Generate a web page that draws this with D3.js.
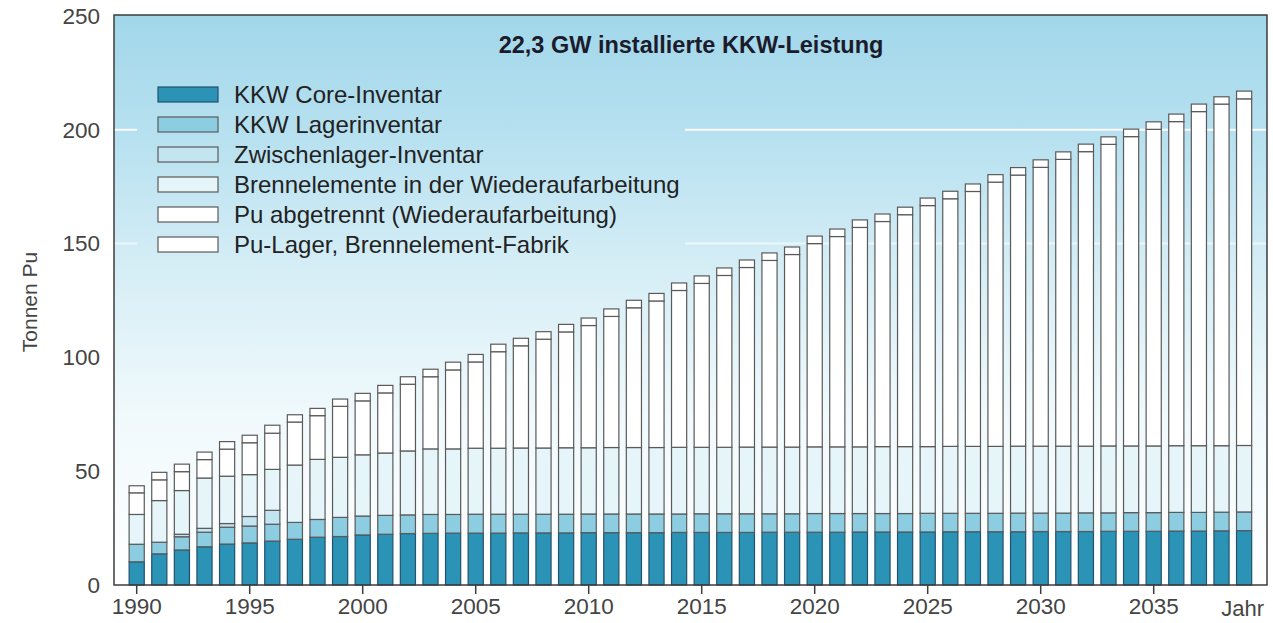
<!DOCTYPE html>
<html>
<head>
<meta charset="utf-8">
<script src="https://cdn.jsdelivr.net/npm/d3@7"></script>
<style>
  html, body { margin: 0; padding: 0; background: #ffffff; }
  svg { display: block; font-family: "Liberation Sans", Arial, Helvetica, sans-serif; }
</style>
</head>
<body>
<svg id="chart" width="1273" height="623"></svg>
<script>
// Plutonium inventory per year, in tonnes Pu, split by where it is held
const years = d3.range(1990, 2040);

const coreInventar = [
  10.2, 13.7, 15.4, 16.8, 18.0, 18.5, 19.3, 20.1, 21.0, 21.3,
  22.0, 22.3, 22.6, 22.7, 22.8, 22.8, 22.8, 22.9, 22.9, 22.9,
  23.0, 23.0, 23.0, 23.0, 23.1, 23.1, 23.1, 23.1, 23.2, 23.2,
  23.2, 23.2, 23.3, 23.3, 23.3, 23.3, 23.4, 23.4, 23.4, 23.4,
  23.5, 23.5, 23.5, 23.6, 23.6, 23.6, 23.7, 23.7, 23.8, 23.9
];
const lagerInventar = [
  7.7, 5.1, 5.8, 6.4, 7.4, 7.4, 7.4, 7.4, 7.8, 8.4,
  8.3, 8.3, 8.2, 8.3, 8.2, 8.3, 8.3, 8.2, 8.2, 8.2,
  8.2, 8.2, 8.2, 8.2, 8.1, 8.2, 8.2, 8.2, 8.1, 8.1,
  8.2, 8.2, 8.1, 8.1, 8.1, 8.2, 8.1, 8.1, 8.1, 8.2,
  8.1, 8.1, 8.2, 8.1, 8.2, 8.2, 8.2, 8.2, 8.2, 8.2
];
const zwischenlager = [
  0, 0, 1.1, 1.7, 1.6, 4.2, 6.1, 0, 0, 0,
  0, 0, 0, 0, 0, 0, 0, 0, 0, 0,
  0, 0, 0, 0, 0, 0, 0, 0, 0, 0,
  0, 0, 0, 0, 0, 0, 0, 0, 0, 0,
  0, 0, 0, 0, 0, 0, 0, 0, 0, 0
];
const wiederaufarbeitung = [
  13.1, 18.3, 19.2, 22.1, 20.8, 18.4, 18.0, 25.2, 26.4, 26.4,
  26.9, 27.4, 28.1, 28.8, 28.8, 29.0, 29.0, 29.1, 29.1, 29.2,
  29.1, 29.2, 29.2, 29.2, 29.3, 29.2, 29.2, 29.3, 29.3, 29.3,
  29.3, 29.3, 29.3, 29.4, 29.4, 29.3, 29.4, 29.4, 29.4, 29.4,
  29.4, 29.4, 29.3, 29.4, 29.3, 29.3, 29.3, 29.3, 29.2, 29.2
];
const puAbgetrennt = [
  9.5, 9.1, 8.3, 8.1, 11.9, 14.0, 15.9, 18.9, 19.2, 22.4,
  23.7, 26.4, 29.3, 31.7, 34.7, 37.9, 42.4, 44.9, 47.8, 50.9,
  53.7, 57.6, 61.4, 64.4, 68.9, 72.0, 75.5, 78.9, 82.0, 84.6,
  89.3, 92.4, 96.4, 98.9, 101.9, 105.9, 108.8, 112.0, 116.1, 119.1,
  122.5, 126.0, 129.4, 132.5, 135.9, 139.1, 142.4, 146.8, 150.1, 152.3
];
const puLager = [
  3.1, 3.3, 3.3, 3.3, 3.3, 3.3, 3.5, 3.2, 3.2, 3.2,
  3.3, 3.3, 3.3, 3.3, 3.4, 3.3, 3.3, 3.3, 3.3, 3.3,
  3.3, 3.3, 3.3, 3.3, 3.3, 3.3, 3.3, 3.3, 3.3, 3.3,
  3.3, 3.3, 3.3, 3.3, 3.3, 3.3, 3.3, 3.3, 3.3, 3.3,
  3.3, 3.3, 3.3, 3.3, 3.3, 3.3, 3.3, 3.3, 3.2, 3.4
];

const seriesKeys = ["core", "lager", "zwischen", "wa", "puab", "pulager"];
const seriesNames = [
  "KKW Core-Inventar",
  "KKW Lagerinventar",
  "Zwischenlager-Inventar",
  "Brennelemente in der Wiederaufarbeitung",
  "Pu abgetrennt (Wiederaufarbeitung)",
  "Pu-Lager, Brennelement-Fabrik"
];
const seriesColors = ["#2a93b6", "#8dcde2", "#c2e5f1", "#e6f5fa", "#ffffff", "#ffffff"];

const yTicks = [0, 50, 100, 150, 200, 250];
const gridValues = [150, 200];
const xTickYears = [1990, 1995, 2000, 2005, 2010, 2015, 2020, 2025, 2030, 2035];
const titleText = "22,3 GW installierte KKW-Leistung";
const yAxisTitle = "Tonnen Pu";
const xAxisTitle = "Jahr";

// rows for the stack layout
const table = years.map((yr, i) => ({
  year: yr,
  core: coreInventar[i],
  lager: lagerInventar[i],
  zwischen: zwischenlager[i],
  wa: wiederaufarbeitung[i],
  puab: puAbgetrennt[i],
  pulager: puLager[i]
}));

const plot = { left: 114, right: 1267, top: 15, bottom: 585 };
const svg = d3.select("#chart");

const x = d3.scaleBand()
  .domain(years)
  .range([125.4, 1255.4])
  .paddingInner(0.33)
  .paddingOuter(0.165);

const y = d3.scaleLinear().domain([0, 250]).range([plot.bottom, plot.top + 1]);

const color = d3.scaleOrdinal().domain(seriesKeys).range(seriesColors);

// sky gradient behind the plot
const defs = svg.append("defs");
const grad = defs.append("linearGradient")
  .attr("id", "sky")
  .attr("gradientUnits", "userSpaceOnUse")
  .attr("x1", 0).attr("y1", plot.top)
  .attr("x2", 0).attr("y2", plot.bottom);
[[0, "#a1d7ea"], [0.22, "#b8e1f0"], [0.45, "#d6eef6"], [0.7, "#f0f9fc"], [1, "#ffffff"]]
  .forEach(([o, c]) => grad.append("stop").attr("offset", o).attr("stop-color", c));

svg.append("rect")
  .attr("x", plot.left).attr("y", plot.top)
  .attr("width", plot.right - plot.left).attr("height", plot.bottom - plot.top)
  .attr("fill", "url(#sky)");

// white grid lines
svg.append("g").selectAll("line")
  .data(gridValues)
  .join("line")
  .attr("x1", plot.left).attr("x2", plot.right)
  .attr("y1", d => y(d)).attr("y2", d => y(d))
  .attr("stroke", "#ffffff")
  .attr("stroke-width", 2)
  .attr("opacity", d => d === 200 ? 0.95 : 0.6);

// legend panel sits on the sky and hides the grid behind it
const legendPanel = { x: 137, y: 16, w: 548, h: 248 };
svg.append("rect")
  .attr("x", legendPanel.x).attr("y", legendPanel.y)
  .attr("width", legendPanel.w).attr("height", legendPanel.h)
  .attr("fill", "url(#sky)");

// stacked bars
const stacked = d3.stack().keys(seriesKeys)(table);

svg.append("g").selectAll("g")
  .data(stacked)
  .join("g")
  .attr("fill", d => color(d.key))
  .selectAll("rect")
  .data(d => d.filter(s => s[1] - s[0] > 0).map(s => Object.assign(s, { key: d.key })))
  .join("rect")
  .attr("x", d => x(d.data.year))
  .attr("width", x.bandwidth())
  .attr("y", d => y(d[1]))
  .attr("height", d => y(d[0]) - y(d[1]))
  .attr("stroke", d => d.key === "core" ? "#24506a" : "#5a5a5a")
  .attr("stroke-width", 1.2);

// frame
svg.append("rect")
  .attr("x", plot.left).attr("y", plot.top)
  .attr("width", plot.right - plot.left).attr("height", plot.bottom - plot.top)
  .attr("fill", "none")
  .attr("stroke", "#3d3d3d")
  .attr("stroke-width", 1.5);

// y axis
const yAxis = svg.append("g")
  .attr("transform", `translate(${plot.left},0)`)
  .call(d3.axisLeft(y).tickValues(yTicks).tickSize(0).tickPadding(14));
yAxis.select(".domain").remove();
yAxis.selectAll("text")
  .attr("font-size", 22.5)
  .attr("fill", "#444444")
  .attr("font-family", "'Liberation Sans', Arial, sans-serif");

// x axis
const xAxis = svg.append("g")
  .attr("transform", `translate(0,${plot.bottom})`)
  .call(d3.axisBottom(x).tickValues(xTickYears).tickSize(9).tickPadding(4));
xAxis.select(".domain").remove();
xAxis.selectAll("line").attr("stroke", "#3d3d3d").attr("stroke-width", 1.5);
xAxis.selectAll("text")
  .attr("font-size", 22.5)
  .attr("fill", "#444444")
  .attr("font-family", "'Liberation Sans', Arial, sans-serif");

svg.append("text")
  .attr("x", 1264)
  .attr("y", 616)
  .attr("text-anchor", "end")
  .attr("font-size", 22)
  .attr("fill", "#444444")
  .text(xAxisTitle);

svg.append("text")
  .attr("transform", `translate(37,302) rotate(-90)`)
  .attr("text-anchor", "middle")
  .attr("font-size", 21)
  .attr("fill", "#444444")
  .text(yAxisTitle);

// title
svg.append("text")
  .attr("x", 691)
  .attr("y", 53)
  .attr("text-anchor", "middle")
  .attr("font-size", 23.5)
  .attr("font-weight", "bold")
  .attr("fill", "#1b1b2b")
  .text(titleText);

// legend
const legend = svg.append("g").attr("transform", "translate(158,87)");
const rows = legend.selectAll("g")
  .data(seriesKeys)
  .join("g")
  .attr("transform", (d, i) => `translate(0,${i * 30})`);
rows.append("rect")
  .attr("width", 60).attr("height", 15)
  .attr("fill", d => color(d))
  .attr("stroke", d => d === "core" ? "#24506a" : "#5a5a5a")
  .attr("stroke-width", 1.2);
rows.append("text")
  .attr("x", 76)
  .attr("y", 16)
  .attr("font-size", 24)
  .attr("fill", "#222222")
  .text((d, i) => seriesNames[i]);
</script>
</body>
</html>
